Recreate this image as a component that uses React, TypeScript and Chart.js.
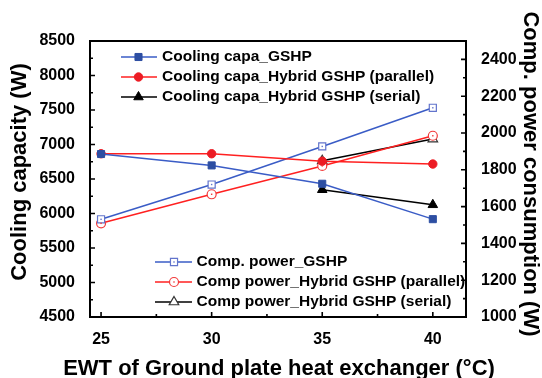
import React, { useEffect, useRef } from 'react';
import { Chart, registerables } from 'chart.js';

Chart.register(...registerables);

// ---- data ----
const ewt = [25, 30, 35, 40];
const capaGSHP = [6862, 6697, 6431, 5918];
const capaParallel = [6866, 6866, 6758, 6717];
const capaSerial: (number | null)[] = [null, null, 6344, 6126];
const powerGSHP = [1531, 1720, 1927, 2137];
const powerParallel = [1509, 1667, 1821, 1985];
const powerSerial: (number | null)[] = [null, null, 1849, 1967];

const xTicks = [25, 30, 35, 40];
const xTitle = 'EWT of Ground plate heat exchanger (\u00B0C)';
const yLeftTitle = 'Cooling capacity (W)';
const yRightTitle = 'Comp. power consumption (W)';

const seriesLabels = [
  'Cooling capa_GSHP',
  'Cooling capa_Hybrid GSHP (parallel)',
  'Cooling capa_Hybrid GSHP (serial)',
  'Comp. power_GSHP',
  'Comp power_Hybrid GSHP (parallel)',
  'Comp power_Hybrid GSHP (serial)',
];

// ---- styles ----
const FONT = "'Liberation Sans', Arial, Helvetica, sans-serif";
const BLUE_LINE = '#3a5cc6';
const BLUE_MARK = '#2d4ea2';
const BLUE_OPEN = '#6274cc';
const RED_LINE = '#ff2020';
const RED_MARK = '#ec1c24';
const RED_OPEN = '#f23a3a';
const BLACK = '#000000';

const pts = (arr: (number | null)[]) => ewt.map((x, i) => ({ x, y: arr[i] }));

function drawMarker(ctx: CanvasRenderingContext2D, style: string, x: number, y: number, r: number, fill: string, stroke: string, lw: number, dot: boolean) {
  ctx.save();
  ctx.beginPath();
  if (style === 'rect') {
    const s = r * Math.SQRT1_2;
    ctx.rect(x - s, y - s, 2 * s, 2 * s);
  } else if (style === 'circle') {
    ctx.arc(x, y, r, 0, Math.PI * 2);
  } else {
    let rad = 0;
    const step = (2 * Math.PI) / 3;
    ctx.moveTo(x + Math.sin(rad) * r, y - Math.cos(rad) * r);
    rad += step;
    ctx.lineTo(x + Math.sin(rad) * r, y - Math.cos(rad) * r);
    rad += step;
    ctx.lineTo(x + Math.sin(rad) * r, y - Math.cos(rad) * r);
    ctx.closePath();
  }
  ctx.fillStyle = fill;
  ctx.fill();
  ctx.lineWidth = lw;
  ctx.strokeStyle = stroke;
  ctx.stroke();
  if (dot) {
    ctx.fillStyle = stroke;
    ctx.fillRect(x - 0.7, y - 0.7, 1.4, 1.4);
  }
  ctx.restore();
}

const openDots = [3, 4];

const framePlugin = {
  id: 'framePlugin',
  afterDatasetsDraw(chart: any) {
    const ctx: CanvasRenderingContext2D = chart.ctx;
    const { left, right, top, bottom } = chart.chartArea;
    const xs = chart.scales.x;
    const yl = chart.scales.y;
    const yr = chart.scales.y1;
    ctx.save();

    // centre dots of open markers
    openDots.forEach((di) => {
      const ds = chart.data.datasets[di];
      chart.getDatasetMeta(di).data.forEach((el: any) => {
        if (el.skip) return;
        ctx.fillStyle = ds.pointBorderColor;
        ctx.fillRect(el.x - 0.7, el.y - 0.7, 1.4, 1.4);
      });
    });

    // legends
    const datasets = chart.data.datasets;
    const legendBlocks = [
      { idx: [0, 1, 2], x1: 121, x2: 157, mx: 138.5, tx: 162, ys: [57, 77, 97] },
      { idx: [3, 4, 5], x1: 155, x2: 192, mx: 174, tx: 196.5, ys: [262, 282, 302] },
    ];
    ctx.font = `bold 15.5px ${FONT}`;
    ctx.textBaseline = 'middle';
    ctx.textAlign = 'left';
    legendBlocks.forEach((b) => {
      b.idx.forEach((di, k) => {
        const ds = datasets[di];
        const y = b.ys[k];
        ctx.beginPath();
        ctx.strokeStyle = ds.borderColor;
        ctx.lineWidth = 1.5;
        ctx.moveTo(b.x1, y);
        ctx.lineTo(b.x2, y);
        ctx.stroke();
        drawMarker(ctx, ds.pointStyle, b.mx, y, ds.pointRadius, ds.pointBackgroundColor, ds.pointBorderColor, ds.pointBorderWidth, openDots.includes(di));
        ctx.fillStyle = '#000';
        ctx.fillText(ds.label, b.tx, y);
      });
    });

    // inward ticks
    ctx.strokeStyle = '#000';
    ctx.lineWidth = 1.6;
    ctx.beginPath();
    for (let v = 4500; v <= 8500; v += 250) {
      const p = yl.getPixelForValue(v);
      const len = v % 500 === 0 ? 5 : 3;
      ctx.moveTo(left, p);
      ctx.lineTo(left + len, p);
    }
    for (let v = 1000; v <= 2500; v += 100) {
      const p = yr.getPixelForValue(v);
      const len = v % 200 === 0 ? 5 : 3;
      ctx.moveTo(right, p);
      ctx.lineTo(right - len, p);
    }
    for (let v = 25; v <= 41.5; v += 2.5) {
      const p = xs.getPixelForValue(v);
      const len = v % 5 === 0 ? 5 : 3;
      ctx.moveTo(p, bottom);
      ctx.lineTo(p, bottom - len);
    }
    ctx.stroke();

    // frame
    ctx.lineWidth = 2;
    ctx.strokeRect(left, top, right - left, bottom - top);

    // axis titles
    ctx.fillStyle = '#000';
    ctx.font = `bold 22px ${FONT}`;
    ctx.textAlign = 'center';
    ctx.textBaseline = 'alphabetic';
    ctx.fillText(xTitle, (left + right) / 2 + 1, 375);

    ctx.save();
    ctx.translate(25.5, 172);
    ctx.rotate(-Math.PI / 2);
    ctx.fillText(yLeftTitle, 0, 0);
    ctx.restore();

    ctx.save();
    ctx.translate(523.5, 174);
    ctx.rotate(Math.PI / 2);
    ctx.fillText(yRightTitle, 0, 0);
    ctx.restore();

    ctx.restore();
  },
};

export default function App() {
  const ref = useRef<HTMLCanvasElement | null>(null);

  useEffect(() => {
    if (!ref.current) return;
    Chart.defaults.font.family = FONT;
    const tickFont = { family: FONT, size: 16, weight: 'bold' as const };
    const chart = new Chart(ref.current, {
      type: 'line',
      data: {
        datasets: [
          {
            label: seriesLabels[0], data: pts(capaGSHP), yAxisID: 'y',
            borderColor: BLUE_LINE, backgroundColor: BLUE_MARK, borderWidth: 1.5,
            pointStyle: 'rect', pointRadius: 5, pointBackgroundColor: BLUE_MARK, pointBorderColor: BLUE_MARK, pointBorderWidth: 1,
          },
          {
            label: seriesLabels[1], data: pts(capaParallel), yAxisID: 'y',
            borderColor: RED_LINE, backgroundColor: RED_MARK, borderWidth: 1.5,
            pointStyle: 'circle', pointRadius: 4.2, pointBackgroundColor: RED_MARK, pointBorderColor: RED_MARK, pointBorderWidth: 1,
          },
          {
            label: seriesLabels[2], data: pts(capaSerial), yAxisID: 'y',
            borderColor: BLACK, backgroundColor: BLACK, borderWidth: 1.5,
            pointStyle: 'triangle', pointRadius: 5.5, pointBackgroundColor: BLACK, pointBorderColor: BLACK, pointBorderWidth: 1,
          },
          {
            label: seriesLabels[3], data: pts(powerGSHP), yAxisID: 'y1',
            borderColor: BLUE_LINE, backgroundColor: '#fff', borderWidth: 1.5,
            pointStyle: 'rect', pointRadius: 5, pointBackgroundColor: '#fff', pointBorderColor: BLUE_OPEN, pointBorderWidth: 1.2,
          },
          {
            label: seriesLabels[4], data: pts(powerParallel), yAxisID: 'y1',
            borderColor: RED_LINE, backgroundColor: '#fff', borderWidth: 1.5,
            pointStyle: 'circle', pointRadius: 4.5, pointBackgroundColor: '#fff', pointBorderColor: RED_OPEN, pointBorderWidth: 1.2,
          },
          {
            label: seriesLabels[5], data: pts(powerSerial), yAxisID: 'y1',
            borderColor: BLACK, backgroundColor: '#fff', borderWidth: 1.5,
            pointStyle: 'triangle', pointRadius: 5.5, pointBackgroundColor: '#fff', pointBorderColor: '#333', pointBorderWidth: 1.2,
          },
        ],
      },
      options: {
        responsive: false,
        animation: false,
        layout: { padding: { top: 41, left: 0, right: 0, bottom: 0 } },
        plugins: { legend: { display: false }, tooltip: { enabled: false } },
        elements: { line: { tension: 0 } },
        scales: {
          x: {
            type: 'linear', min: 24.5, max: 41.5,
            ticks: {
              stepSize: 5, includeBounds: false, autoSkip: false, padding: 5,
              font: tickFont, color: '#000',
              callback: (v: any) => (xTicks.includes(Number(v)) ? String(v) : ''),
            },
            grid: { display: false }, border: { display: false },
            afterFit: (s: any) => { s.height = 61; },
          },
          y: {
            position: 'left', min: 4500, max: 8500,
            ticks: { stepSize: 500, padding: 7, font: tickFont, color: '#000', callback: (v: any) => String(v) },
            grid: { display: false }, border: { display: false },
            afterFit: (s: any) => { s.width = 90; },
          },
          y1: {
            position: 'right', min: 1000, max: 2500,
            ticks: { stepSize: 200, includeBounds: false, padding: 7, font: tickFont, color: '#000', callback: (v: any) => String(v) },
            grid: { display: false }, border: { display: false },
            afterFit: (s: any) => { s.width = 76; },
          },
        },
      } as any,
      plugins: [framePlugin],
    });
    return () => chart.destroy();
  }, []);

  return (
    <div style={{ position: 'fixed', left: 0, top: 0, width: 542, height: 378, background: '#fff' }}>
      <canvas ref={ref} width={542} height={378} />
    </div>
  );
}
